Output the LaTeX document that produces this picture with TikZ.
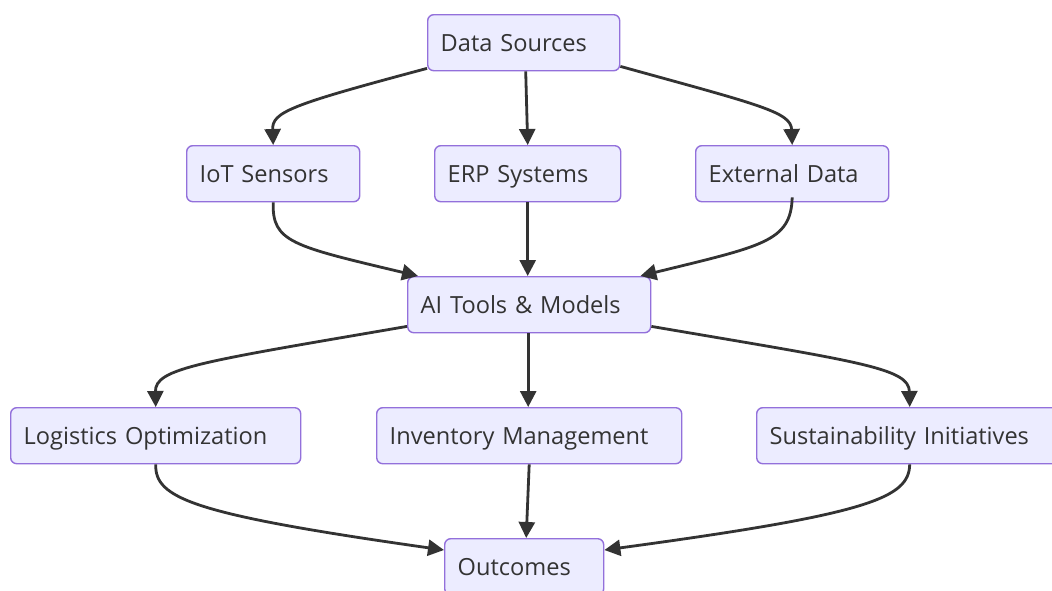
\documentclass[tikz,border=0pt]{standalone}
\usepackage{fontspec}
\setmainfont{Open Sans}
\usetikzlibrary{arrows.meta}
\definecolor{boxfill}{HTML}{ECECFF}
\definecolor{boxline}{HTML}{9370DB}
\definecolor{txt}{HTML}{333333}
\definecolor{edge}{HTML}{333333}
\begin{document}
\begin{tikzpicture}[x=1pt,y=-1pt,
  box/.style={draw=boxline, fill=boxfill, line width=1.4pt, rounded corners=6pt,
    anchor=north west, minimum height=56pt, inner xsep=13pt, inner ysep=0pt,
    text height=20pt, text depth=2pt,
    align=left, text=txt, font=\fontsize{23.6}{27}\selectfont},
  conn/.style={draw=edge, line width=2.8pt, -{Triangle[length=16pt,width=16pt]}}]
\useasboundingbox[fill=white] (0,0) rectangle (1052,590);
\node[box, text width=166pt] (ds) at (427,14) {Data Sources};
\node[box, text width=147pt] (iot) at (186,145) {IoT Sensors};
\node[box, text width=160pt] (erp) at (434,145) {ERP Systems};
\node[box, text width=167pt] (ext) at (695,145) {External Data};
\node[box, text width=217pt] (ai) at (407,276) {AI Tools \& Models};
\node[box, text width=264pt] (log) at (10,407) {Logistics Optimization};
\node[box, text width=279pt] (inv) at (376,407) {Inventory Management};
\node[box, text width=280pt] (sus) at (756,407) {Sustainability Initiatives};
\node[box, text width=133pt] (out) at (444,538) {Outcomes};
\draw[conn] ([yshift=3pt]ds.south west) .. controls (290,105) and (272,112) .. (iot.north);
\draw[conn] ([xshift=2pt]ds.south) -- (erp.north);
\draw[conn] ([yshift=5pt]ds.south east) .. controls (760,105) and (791,112) .. (ext.north);
\draw[conn] (iot.south) .. controls (272,242) and (292,246) .. ([xshift=11pt]ai.north west);
\draw[conn] (erp.south) -- (erp.south |- ai.north);
\draw[conn] ([yshift=5pt]ext.south) .. controls (791,242) and (762,246) .. ([xshift=-11pt]ai.north east);
\draw[conn] ([yshift=7pt]ai.south west) .. controls (200,362) and (155,368) .. (log.north);
\draw[conn] ([xshift=-1pt]ai.south) -- ([xshift=-1pt]inv.north);
\draw[conn] ([yshift=7pt]ai.south east) .. controls (860,362) and (909,368) .. (sus.north);
\draw[conn] (log.south) .. controls (155,498) and (190,514) .. ([yshift=-12pt]out.north west);
\draw[conn] (inv.south) -- ([xshift=2pt]out.north);
\draw[conn] (sus.south) .. controls (909,498) and (870,514) .. ([yshift=-12pt]out.north east);
\end{tikzpicture}
\end{document}
